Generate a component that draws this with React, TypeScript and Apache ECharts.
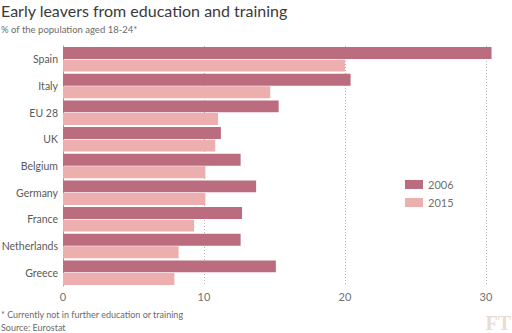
import React, { useEffect, useRef } from "react";
import * as echarts from "echarts";

const categories = ["Spain", "Italy", "EU 28", "UK", "Belgium", "Germany", "France", "Netherlands", "Greece"];
const values2006 = [30.4, 20.4, 15.3, 11.2, 12.6, 13.7, 12.7, 12.6, 15.1];
const values2015 = [20.0, 14.7, 11.0, 10.8, 10.1, 10.1, 9.3, 8.2, 7.9];
const seriesNames = ["2006", "2015"];
const colors = ["#bb6c7f", "#edaeae"];

const FONT = "Lato, 'Open Sans', sans-serif";

export default function App() {
  const ref = useRef<HTMLDivElement>(null);
  useEffect(() => {
    if (!ref.current) return;
    const chart = echarts.init(ref.current, null, { renderer: "svg" });
    chart.setOption({
      animation: false,
      backgroundColor: "#ffffff",
      textStyle: { fontFamily: FONT },
      title: {
        text: "Early leavers from education and training",
        subtext: "% of the population aged 18-24*",
        left: 0,
        top: 0,
        padding: [2, 1, 0, 1],
        itemGap: 6,
        textStyle: { fontFamily: FONT, fontSize: 16, fontWeight: "normal", color: "#3a3a3a" },
        subtextStyle: { fontFamily: FONT, fontSize: 9.5, color: "#6b6b6b" },
      },
      legend: {
        orient: "vertical",
        left: 400,
        top: 174,
        itemWidth: 18,
        itemHeight: 9,
        itemGap: 7,
        icon: "rect",
        textStyle: { fontFamily: FONT, fontSize: 11, color: "#707070" },
        data: seriesNames,
      },
      grid: { left: 63, top: 46, width: 437, height: 240, containLabel: false, outerBoundsMode: "none" },
      xAxis: {
        type: "value",
        min: 0,
        max: 31,
        interval: 10,
        axisLine: { show: false },
        axisTick: { show: false },
        axisLabel: {
          showMaxLabel: false,
          fontFamily: FONT,
          fontSize: 11,
          color: "#707070",
          margin: 5,
          formatter: (v: number) => (v % 10 === 0 ? String(v) : ""),
        },
        splitLine: {
          show: true,
          showMinLine: false,
          showMaxLine: false,
          lineStyle: { type: [1, 2], color: "#b5b5b5", width: 1 },
        },
      },
      yAxis: {
        type: "category",
        data: categories,
        inverse: true,
        axisLine: { show: true, lineStyle: { color: "#a0a0a0", width: 1 } },
        axisTick: { show: false },
        axisLabel: { fontFamily: FONT, fontSize: 10.5, color: "#5a5a5a", margin: 5 },
      },
      series: [
        {
          name: seriesNames[0],
          type: "bar",
          data: values2006,
          itemStyle: { color: colors[0] },
          barGap: "6%",
          barCategoryGap: "8%",
        },
        {
          name: seriesNames[1],
          type: "bar",
          data: values2015,
          itemStyle: { color: colors[1] },
          barGap: "6%",
          barCategoryGap: "8%",
        },
      ],
      graphic: [
        {
          type: "text",
          left: 1,
          top: 310,
          style: { text: "* Currently not in further education or training", fontFamily: FONT, fontSize: 9, fill: "#6b6b6b" },
        },
        {
          type: "text",
          left: 1,
          top: 323,
          style: { text: "Source: Eurostat", fontFamily: FONT, fontSize: 9, fill: "#6b6b6b" },
        },
        {
          type: "text",
          right: 1,
          top: 313,
          style: { text: "FT", fontFamily: "'Liberation Serif', 'DejaVu Serif', serif", fontSize: 20, fontWeight: "bold", fill: "#e8ddd3" },
        },
      ],
    });
    return () => chart.dispose();
  }, []);
  return <div ref={ref} style={{ width: 512, height: 333, position: "absolute", left: 0, top: 0 }} />;
}
